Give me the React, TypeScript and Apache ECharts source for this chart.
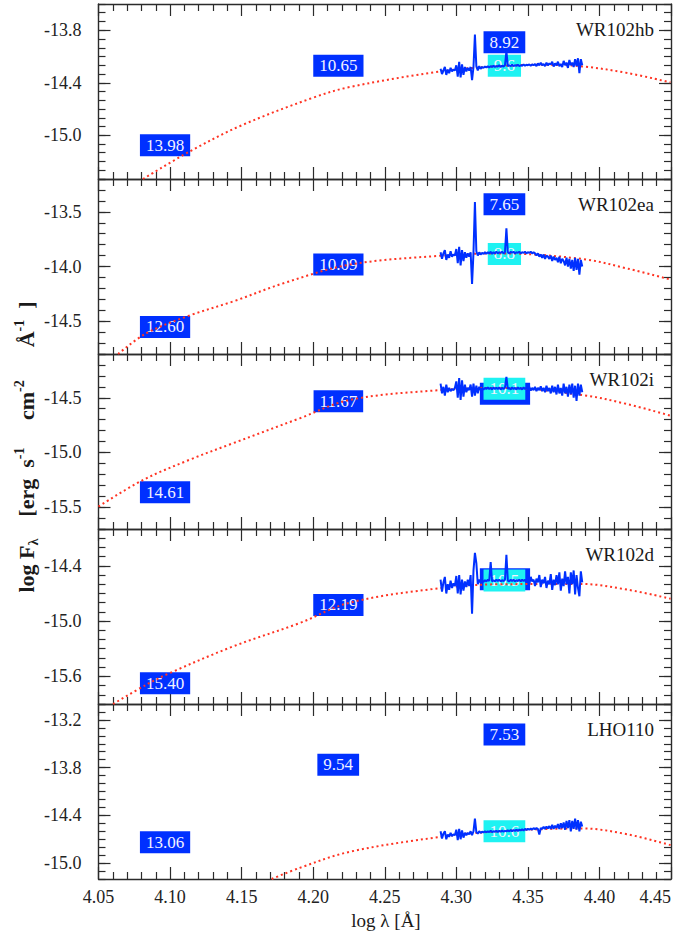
import React, { useEffect, useRef } from 'react';
import * as echarts from 'echarts';

// ---------- data ----------
const panelNames = ['WR102hb', 'WR102ea', 'WR102i', 'WR102d', 'LHO110'];
const xTicks = [4.05, 4.1, 4.15, 4.2, 4.25, 4.3, 4.35, 4.4, 4.45];
const yMin = [-15.5, -14.8, -15.7, -15.9, -15.2];
const yMax = [-13.5, -13.2, -14.1, -14.0, -13.0];
const yMajor = [
  [-15.0, -14.4, -13.8],
  [-14.5, -14.0, -13.5],
  [-15.5, -15.0, -14.5],
  [-15.6, -15.0, -14.4],
  [-15.0, -14.4, -13.8, -13.2],
];

// model (red dotted) curves: [log lambda, log F]
const model1 = [[4.0811, -15.5], [4.1138, -15.185], [4.1494, -14.891], [4.1994, -14.574], [4.2255, -14.449], [4.2895, -14.27], [4.33, -14.21], [4.36, -14.195], [4.388, -14.213], [4.42, -14.29], [4.4496, -14.396]];
const model2 = [[4.0637, -14.8], [4.0835, -14.61], [4.1138, -14.447], [4.144, -14.32], [4.18, -14.15], [4.2255, -13.983], [4.2895, -13.901], [4.33, -13.88], [4.388, -13.931], [4.42, -14.02], [4.4497, -14.12]];
const model3 = [[4.05, -15.495], [4.0811, -15.252], [4.1138, -15.066], [4.144, -14.916], [4.1906, -14.688], [4.2255, -14.52], [4.2895, -14.429], [4.33, -14.41], [4.388, -14.475], [4.42, -14.56], [4.4497, -14.664]];
const model4 = [[4.0602, -15.9], [4.0835, -15.69], [4.0998, -15.564], [4.144, -15.275], [4.1906, -15.021], [4.2255, -14.8], [4.2895, -14.641], [4.33, -14.6], [4.388, -14.597], [4.42, -14.66], [4.4497, -14.757]];
const model5 = [[4.171, -15.2], [4.1906, -15.06], [4.2255, -14.858], [4.2895, -14.669], [4.33, -14.6], [4.388, -14.564], [4.42, -14.64], [4.4497, -14.774]];

// observed spectra (blue): common wavelength grid + fluxes
const specX = [
  4.289, 4.290, 4.291, 4.292, 4.293, 4.294, 4.295, 4.296, 4.297, 4.298,
  4.299, 4.300, 4.301, 4.302, 4.303, 4.304, 4.305, 4.306, 4.307, 4.308,
  4.309, 4.310, 4.311, 4.312, 4.313, 4.314, 4.315, 4.316, 4.317, 4.318,
  4.319, 4.320, 4.321, 4.322, 4.323, 4.324, 4.325, 4.326, 4.327, 4.328,
  4.329, 4.330, 4.331, 4.332, 4.333, 4.334, 4.335, 4.336, 4.337, 4.338,
  4.339, 4.340, 4.341, 4.342, 4.343, 4.344, 4.345, 4.346, 4.347, 4.348,
  4.349, 4.350, 4.351, 4.352, 4.353, 4.354, 4.355, 4.356, 4.357, 4.358,
  4.359, 4.360, 4.361, 4.362, 4.363, 4.364, 4.365, 4.366, 4.367, 4.368,
  4.369, 4.370, 4.371, 4.372, 4.373, 4.374, 4.375, 4.376, 4.377, 4.378,
  4.379, 4.380, 4.381, 4.382, 4.383, 4.384, 4.385, 4.386, 4.387, 4.388,
];
const spec1 = [
  -14.24, -14.30, -14.26, -14.22, -14.31, -14.25, -14.29, -14.23, -14.27, -14.25,
  -14.26, -14.20, -14.33, -14.16, -14.34, -14.19, -14.31, -14.22, -14.27, -14.23,
  -14.26, -14.22, -14.37, -14.22, -13.85, -14.21, -14.26, -14.21, -14.24, -14.22,
  -14.23, -14.215, -14.225, -14.21, -14.225, -14.21, -14.22, -14.205, -14.22, -14.21,
  -14.215, -14.20, -14.22, -14.205, -14.215, -14.20, -14.04, -14.21, -14.20, -14.21,
  -14.195, -14.21, -14.20, -14.205, -14.195, -14.21, -14.20, -14.205, -14.19, -14.205,
  -14.195, -14.20, -14.19, -14.205, -14.19, -14.20, -14.185, -14.21, -14.18, -14.20,
  -14.17, -14.20, -14.185, -14.21, -14.17, -14.20, -14.18, -14.19, -14.16, -14.215,
  -14.18, -14.20, -14.16, -14.21, -14.185, -14.22, -14.15, -14.20, -14.17, -14.23,
  -14.14, -14.20, -14.17, -14.22, -14.13, -14.21, -14.12, -14.29, -14.13, -14.20,
];
const spec2 = [
  -13.87, -13.93, -13.88, -13.85, -13.94, -13.89, -13.92, -13.86, -13.91, -13.89,
  -13.90, -13.84, -13.97, -13.82, -13.99, -13.85, -13.95, -13.87, -13.92, -13.88,
  -13.91, -13.87, -14.16, -13.87, -13.41, -13.86, -13.90, -13.87, -13.89, -13.875,
  -13.885, -13.87, -13.885, -13.87, -13.88, -13.865, -13.885, -13.87, -13.88, -13.865,
  -13.88, -13.87, -13.875, -13.865, -13.88, -13.87, -13.65, -13.87, -13.88, -13.865,
  -13.875, -13.865, -13.88, -13.87, -13.875, -13.865, -13.88, -13.87, -13.875, -13.865,
  -13.88, -13.87, -13.875, -13.865, -13.88, -13.87, -13.88, -13.90, -13.88, -13.91,
  -13.89, -13.92, -13.89, -13.93, -13.90, -13.91, -13.93, -13.90, -13.95, -13.91,
  -13.94, -13.92, -13.96, -13.91, -13.97, -13.93, -13.95, -13.99, -13.92, -14.00,
  -13.93, -14.02, -13.94, -14.04, -13.92, -14.03, -13.93, -14.075, -13.94, -14.00,
];
const spec3 = [
  -14.37, -14.46, -14.40, -14.48, -14.38, -14.45, -14.41, -14.44, -14.42, -14.43,
  -14.41, -14.35, -14.50, -14.32, -14.52, -14.34, -14.49, -14.38, -14.45, -14.41,
  -14.43, -14.38, -14.49, -14.37, -14.48, -14.39, -14.46, -14.40, -14.43, -14.415,
  -14.425, -14.41, -14.42, -14.405, -14.42, -14.41, -14.425, -14.405, -14.42, -14.41,
  -14.42, -14.405, -14.425, -14.41, -14.42, -14.405, -14.31, -14.42, -14.41, -14.425,
  -14.405, -14.42, -14.41, -14.425, -14.405, -14.42, -14.41, -14.425, -14.405, -14.42,
  -14.41, -14.43, -14.40, -14.435, -14.41, -14.43, -14.40, -14.44, -14.41, -14.43,
  -14.395, -14.44, -14.41, -14.45, -14.39, -14.44, -14.41, -14.46, -14.39, -14.45,
  -14.40, -14.47, -14.38, -14.46, -14.41, -14.48, -14.37, -14.46, -14.40, -14.49,
  -14.38, -14.47, -14.37, -14.50, -14.39, -14.53, -14.37, -14.48, -14.38, -14.45,
];
const spec4 = [
  -14.55, -14.68, -14.58, -14.52, -14.70, -14.60, -14.66, -14.56, -14.64, -14.59,
  -14.62, -14.51, -14.70, -14.50, -14.71, -14.55, -14.67, -14.57, -14.63, -14.55,
  -14.62, -14.50, -14.92, -14.45, -14.26, -14.37, -14.60, -14.55, -14.58, -14.56,
  -14.575, -14.555, -14.57, -14.55, -14.565, -14.36, -14.57, -14.555, -14.57, -14.55,
  -14.565, -14.55, -14.57, -14.555, -14.565, -14.55, -14.28, -14.56, -14.57, -14.55,
  -14.565, -14.55, -14.57, -14.555, -14.565, -14.55, -14.57, -14.55, -14.565, -14.55,
  -14.58, -14.55, -14.60, -14.52, -14.57, -14.55, -14.62, -14.54, -14.58, -14.50,
  -14.63, -14.55, -14.59, -14.52, -14.64, -14.56, -14.60, -14.49, -14.66, -14.55,
  -14.61, -14.50, -14.60, -14.47, -14.67, -14.54, -14.62, -14.46, -14.60, -14.52,
  -14.70, -14.47, -14.60, -14.45, -14.71, -14.50, -14.64, -14.73, -14.46, -14.58,
];
const spec5 = [
  -14.60, -14.69, -14.63, -14.60, -14.70, -14.64, -14.67, -14.62, -14.66, -14.64,
  -14.65, -14.58, -14.71, -14.57, -14.70, -14.59, -14.68, -14.62, -14.65, -14.62,
  -14.64, -14.60, -14.65, -14.60, -14.44, -14.61, -14.63, -14.60, -14.62, -14.605,
  -14.615, -14.60, -14.61, -14.60, -14.61, -14.595, -14.61, -14.60, -14.605, -14.595,
  -14.61, -14.595, -14.605, -14.59, -14.605, -14.595, -14.60, -14.59, -14.60, -14.585,
  -14.60, -14.585, -14.595, -14.58, -14.595, -14.58, -14.59, -14.575, -14.59, -14.57,
  -14.585, -14.57, -14.58, -14.565, -14.58, -14.56, -14.575, -14.56, -14.57, -14.64,
  -14.56, -14.57, -14.545, -14.57, -14.54, -14.565, -14.535, -14.57, -14.52, -14.57,
  -14.53, -14.56, -14.51, -14.57, -14.50, -14.56, -14.49, -14.58, -14.47, -14.56,
  -14.46, -14.60, -14.47, -14.57, -14.44, -14.58, -14.46, -14.60, -14.48, -14.54,
];

// magnitude tags: [log lambda, log F, text]
const blueTags1 = [[4.0965, -15.114, '13.98'], [4.2176, -14.207, '10.65'], [4.3336, -13.937, '8.92']];
const blueTags2 = [[4.0965, -14.552, '12.60'], [4.2176, -13.981, '10.09'], [4.3336, -13.43, '7.65']];
const blueTags3 = [[4.0965, -15.363, '14.61'], [4.2176, -14.531, '11.67']];
const blueTags4 = [[4.0965, -15.674, '15.40'], [4.2176, -14.825, '12.19']];
const blueTags5 = [[4.0965, -14.738, '13.06'], [4.2175, -13.763, '9.54'], [4.3336, -13.384, '7.53']];
// blue tags hidden behind the cyan ones (their text is not visible)
const coveredTags3 = [[4.334, -14.463]];
const coveredTags4 = [[4.334, -14.545]];
const cyanTags1 = [[4.3336, -14.207, '9.6']];
const cyanTags2 = [[4.3336, -13.885, '8.8']];
const cyanTags3 = [[4.3336, -14.417, '10.1']];
const cyanTags4 = [[4.3336, -14.559, '10.5']];
const cyanTags5 = [[4.3336, -14.601, '10.6']];

const models = [model1, model2, model3, model4, model5];
const spectra = [spec1, spec2, spec3, spec4, spec5];
const blueTags = [blueTags1, blueTags2, blueTags3, blueTags4, blueTags5];
const coveredTags = [[], [], coveredTags3, coveredTags4, []];
const cyanTags = [cyanTags1, cyanTags2, cyanTags3, cyanTags4, cyanTags5];

export default function App() {
  const ref = useRef<HTMLDivElement>(null);
  useEffect(() => {
    if (!ref.current) return;
    const chart = echarts.init(ref.current, undefined, { renderer: 'svg' });
    const FONT = 'Liberation Serif';
    const AX = '#2b2b2b';
    const BLUE = '#0030ff';
    const CYAN = '#1ef2f2';
    const tops = [4, 179, 354, 529, 704];
    const H = 175;
    const L = 98.5;
    const R = 25;

    const grid: any[] = [];
    const xAxis: any[] = [];
    const yAxis: any[] = [];
    const series: any[] = [];
    const graphic: any[] = [];

    const lineStyle = { color: AX, width: 1.4 };
    const tickStyle = { color: AX, width: 1.2 };

    for (let i = 0; i < 5; i++) {
      grid.push({ left: L, right: R, top: tops[i], height: H });
      const last = i === 4;
      for (const pos of ['bottom', 'top']) {
        xAxis.push({
          type: 'value',
          gridIndex: i,
          position: pos,
          min: xTicks[0],
          max: xTicks[xTicks.length - 1],
          interval: 0.05,
          axisLine: { show: true, onZero: false, lineStyle },
          axisTick: { show: true, inside: true, length: 12, lineStyle: tickStyle },
          minorTick: { show: true, splitNumber: 5, length: 7, lineStyle: tickStyle },
          axisLabel: {
            show: last && pos === 'bottom',
            formatter: (v: number) => v.toFixed(2),
            margin: 9,
            fontSize: 18,
            fontFamily: FONT,
            color: '#222',
            alignMaxLabel: 'right',
          },
          splitLine: { show: false },
          minorSplitLine: { show: false },
        });
      }
      for (const pos of ['left', 'right']) {
        yAxis.push({
          type: 'value',
          gridIndex: i,
          position: pos,
          min: yMin[i],
          max: yMax[i],
          axisLine: { show: true, onZero: false, lineStyle },
          axisTick: { show: true, inside: true, length: 12, lineStyle: tickStyle, customValues: yMajor[i] },
          axisLabel: {
            show: pos === 'left',
            customValues: yMajor[i],
            formatter: (v: number) => v.toFixed(1),
            margin: 17,
            fontSize: 18,
            fontFamily: FONT,
            color: '#222',
          },
          splitLine: { show: false },
        });
      }
      for (const pos of ['left', 'right']) {
        yAxis.push({
          type: 'value',
          gridIndex: i,
          position: pos,
          min: yMin[i],
          max: yMax[i],
          interval: 0.1,
          axisLine: { show: false, onZero: false },
          axisTick: { show: true, inside: true, length: 7, lineStyle: tickStyle },
          axisLabel: { show: false },
          splitLine: { show: false },
        });
      }
      const xi = 2 * i;
      const yi = 4 * i;
      const tagSeries = (data: any[], bg: string, pad: number[], fmt: (p: any) => string, z: number) => ({
        type: 'scatter',
        xAxisIndex: xi,
        yAxisIndex: yi,
        data,
        symbol: 'rect',
        symbolSize: 1,
        itemStyle: { color: 'rgba(0,0,0,0)', opacity: 1 },
        label: {
          show: true,
          position: 'inside',
          formatter: fmt,
          color: '#f2f2ff',
          opacity: 1,
          fontSize: 17,
          fontFamily: FONT,
          lineHeight: 17,
          backgroundColor: bg,
          padding: pad,
        },
        silent: true,
        z,
      });
      series.push(tagSeries(blueTags[i], BLUE, [3, 6, 2, 6], (p: any) => p.value[2], 1));
      if (coveredTags[i].length) {
        series.push(tagSeries(coveredTags[i], BLUE, [3, 23, 2, 23], () => '\u00a0', 1));
      }
      series.push(tagSeries(cyanTags[i], CYAN, [3, 6, 2, 6], (p: any) => p.value[2], 2));
      series.push({
        type: 'line',
        xAxisIndex: xi,
        yAxisIndex: yi,
        data: models[i],
        smooth: 0.35,
        showSymbol: false,
        lineStyle: { color: '#ff3322', width: 2, type: [2, 3] },
        silent: true,
        z: 3,
      });
      series.push({
        type: 'line',
        xAxisIndex: xi,
        yAxisIndex: yi,
        data: specX.map((x, k) => [x, spectra[i][k]]),
        showSymbol: false,
        lineStyle: { color: BLUE, width: 2 },
        silent: true,
        z: 4,
      });
      graphic.push({
        type: 'text',
        x: 654,
        y: tops[i] + 25,
        style: {
          text: panelNames[i],
          fill: '#1a1a1a',
          fontSize: 19,
          fontFamily: FONT,
          align: 'right',
          verticalAlign: 'middle',
        },
      });
    }

    graphic.push({
      type: 'text',
      x: 386,
      y: 920,
      style: {
        text: 'log λ [Å]',
        fill: '#1a1a1a',
        fontSize: 19,
        fontFamily: FONT,
        align: 'center',
        verticalAlign: 'middle',
      },
    });
    graphic.push({
      type: 'text',
      x: 26,
      y: 447,
      rotation: Math.PI / 2,
      style: {
        text: '{b|log F}{s|λ}{b|    [erg  s}{p|-1}{b|     cm}{p|-2}{b|      Å}{p|-1}{b|  ]}',
        align: 'center',
        verticalAlign: 'middle',
        fill: '#1a1a1a',
        rich: {
          b: { fontSize: 22, fontWeight: 'bold', fontFamily: FONT, lineHeight: 28, fill: '#1a1a1a' },
          s: { fontSize: 14, fontWeight: 'bold', fontFamily: FONT, lineHeight: 16, verticalAlign: 'bottom', fill: '#1a1a1a' },
          p: { fontSize: 14, fontWeight: 'bold', fontFamily: FONT, lineHeight: 16, verticalAlign: 'top', fill: '#1a1a1a' },
        },
      },
    });

    chart.setOption({
      animation: false,
      backgroundColor: '#ffffff',
      grid,
      xAxis,
      yAxis,
      series,
      graphic,
    });
    return () => chart.dispose();
  }, []);
  return (
    <div
      ref={ref}
      style={{ position: 'fixed', left: 0, top: 0, width: 696, height: 931 }}
    />
  );
}
